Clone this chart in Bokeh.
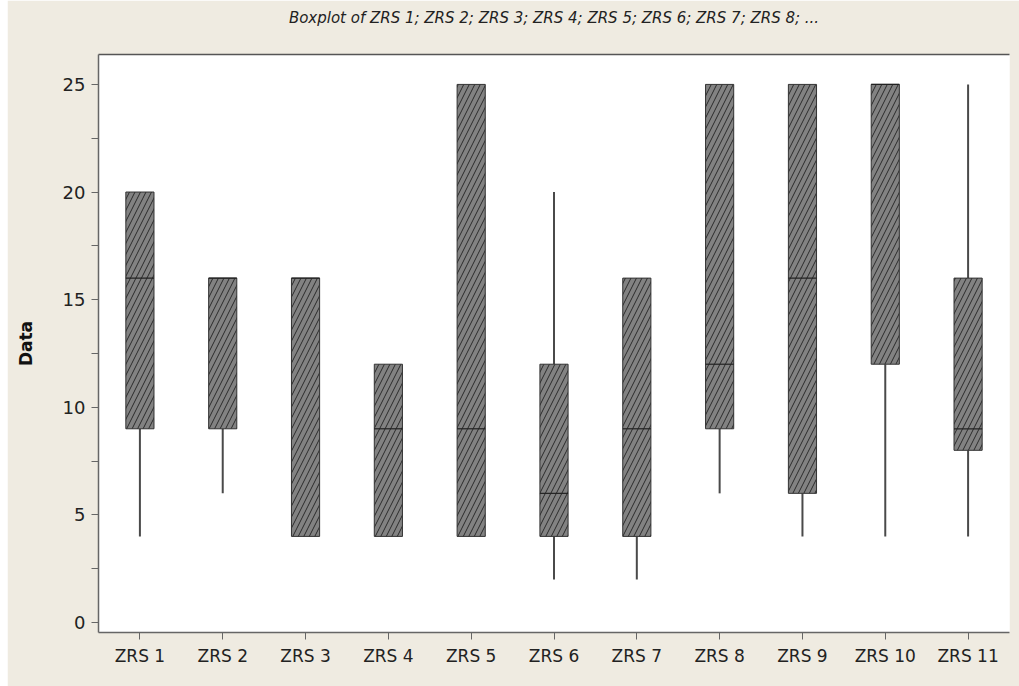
from bokeh.plotting import figure
from bokeh.models import Range1d, FixedTicker, LinearAxis
from bokeh.embed import file_html
from bokeh.resources import INLINE

categories = ["ZRS 1", "ZRS 2", "ZRS 3", "ZRS 4", "ZRS 5", "ZRS 6",
              "ZRS 7", "ZRS 8", "ZRS 9", "ZRS 10", "ZRS 11"]
lower = [4, 6, 4, 4, 4, 2, 2, 6, 4, 4, 4]
q1 = [9, 9, 4, 4, 4, 4, 4, 9, 6, 12, 8]
median = [16, 16, 16, 9, 9, 6, 9, 12, 16, 25, 9]
q3 = [20, 16, 16, 12, 25, 12, 16, 25, 25, 25, 16]
upper = [20, 16, 16, 12, 25, 20, 16, 25, 25, 25, 25]
y_ticks = [0, 5, 10, 15, 20, 25]
y_minor = [2.5, 7.5, 12.5, 17.5, 22.5]
title_text = "Boxplot of ZRS 1; ZRS 2; ZRS 3; ZRS 4; ZRS 5; ZRS 6; ZRS 7; ZRS 8; ..."

x = list(range(1, len(categories) + 1))
box_w = 0.34

BEIGE = "#EFEBE1"
AXC = "#666666"
FONT = "DejaVu Sans"

p = figure(frame_width=911, frame_height=578,
           x_range=Range1d(0.5, 11.5), y_range=Range1d(-0.465, 26.39),
           output_backend="svg", toolbar_location=None,
           min_border_left=91, min_border_right=10,
           min_border_top=54, min_border_bottom=54,
           border_fill_color=BEIGE, background_fill_color="white")
p.margin = (0, 0, 0, 7)
p.outline_line_color = None
p.xgrid.visible = False
p.ygrid.visible = False

# whiskers
p.segment(x0=x, y0=lower, x1=x, y1=q1, line_color="#4a4a4a", line_width=2, line_cap="butt")
p.segment(x0=x, y0=q3, x1=x, y1=upper, line_color="#4a4a4a", line_width=2, line_cap="butt")
# boxes
p.vbar(x=x, width=box_w, bottom=q1, top=q3, fill_color="#828282",
       line_color="#333333", line_width=1,
       hatch_pattern="/", hatch_color="#2a2a2a", hatch_scale=11, hatch_weight=1)
# medians
p.segment(x0=[v - box_w / 2 for v in x], y0=median, x1=[v + box_w / 2 for v in x], y1=median,
          line_color="#222222", line_width=1.2)

# axes
ya = p.yaxis[0]
ya.ticker = FixedTicker(ticks=y_ticks, minor_ticks=y_minor)
ya.axis_label = "Data"
ya.axis_label_text_font = FONT
ya.axis_label_text_font_style = "bold"
ya.axis_label_text_font_size = "17px"
ya.axis_label_text_color = "#111111"
ya.axis_label_standoff = 24
ya.major_label_text_font = FONT
ya.major_label_text_font_size = "18px"
ya.major_label_text_color = "#222222"
ya.major_label_standoff = 6
for ax in (ya, p.xaxis[0]):
    ax.axis_line_color = AXC
    ax.axis_line_width = 1.5
    ax.major_tick_line_color = AXC
    ax.minor_tick_line_color = AXC
    ax.major_tick_in = 0
    ax.major_tick_out = 7
    ax.minor_tick_in = 0
    ax.minor_tick_out = 7

xa = p.xaxis[0]
xa.ticker = FixedTicker(ticks=x, minor_ticks=[])
xa.major_label_overrides = {i: c for i, c in zip(x, categories)}
xa.major_label_text_font = FONT
xa.major_label_text_font_size = "17px"
xa.major_label_text_color = "#222222"
xa.major_label_standoff = 6

top = LinearAxis(ticker=FixedTicker(ticks=[]), major_label_text_font_size="0px",
                 axis_line_color="#555555", axis_line_width=1.5,
                 major_tick_line_color=None, minor_tick_line_color=None,
                 axis_label=title_text, axis_label_text_font=FONT,
                 axis_label_text_font_style="italic", axis_label_text_font_size="15px",
                 axis_label_text_color="#222222", axis_label_standoff=28)
p.add_layout(top, "above")

open("out.html", "w").write(file_html(p, INLINE))
